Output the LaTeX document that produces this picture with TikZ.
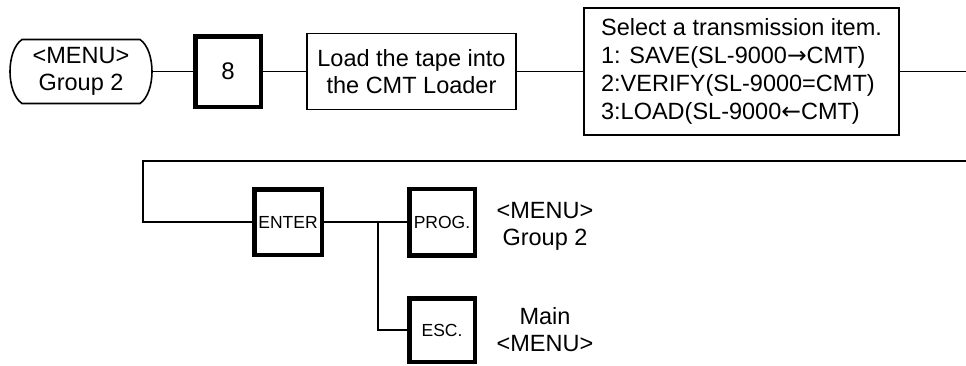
\documentclass[tikz,border=0pt]{standalone}
\usepackage{fontspec}
\setmainfont{Liberation Sans}
\newfontfamily\arrowfont{DejaVu Sans}
\begin{document}
\begin{tikzpicture}[x=1pt,y=-1pt,
	base/.style={font=\fontsize{23.5}{27}\selectfont},
	wire/.style={line width=1.6pt},
	key/.style={rectangle,draw,line width=4.5pt,minimum width=66pt,minimum height=66pt,inner sep=0pt,outer sep=0pt,font=\fontsize{17.5}{20}\selectfont},
	box/.style={rectangle,draw,line width=1.6pt,base,align=center,inner sep=0pt,outer sep=0pt},
	msg/.style={base,align=center},
	]
	
	\useasboundingbox (0,0) rectangle (966,365);
	
	% first row
	\node[box,draw=none,minimum width=142pt,minimum height=64pt] (menu) at (81,71.5) {<MENU>\\Group 2};
	\draw[wire] ([xshift=12pt]menu.north west) -- ([xshift=-12pt]menu.north east)
	.. controls ([xshift=4pt,yshift=-11pt]menu.north east) and ([xshift=4pt,yshift=11pt]menu.south east) .. ([xshift=-12pt]menu.south east)
	-- ([xshift=12pt]menu.south west)
	.. controls ([xshift=-4pt,yshift=11pt]menu.south west) and ([xshift=-4pt,yshift=-11pt]menu.north west) .. cycle;
	
	\node[key,font=\fontsize{24}{28}\selectfont,minimum width=65.5pt,minimum height=70.5pt] (k8) at (228,71.5) {8};
	\node[box,minimum width=209pt,minimum height=76pt] (load) at (411.5,71.5) {Load the tape into\\the CMT Loader};
	\node[box,align=left,font=\fontsize{23.5}{28}\selectfont,minimum width=315pt,minimum height=127pt] (sel) at (741.5,71.5)
	{Select a transmission item.\\1: SAVE(SL-9000{\arrowfont →}CMT)\\2:VERIFY(SL-9000=CMT)\\3:LOAD(SL-9000{\arrowfont ←}CMT)};
	
	\coordinate (r1) at (966,71.5);
	\coordinate (r2) at (966,161);
	\coordinate (l2) at (143,161);
	
	\draw[wire] (menu) -- (k8);
	\draw[wire] (k8) -- (load);
	\draw[wire] (load) -- (sel);
	\draw[wire] (sel) -- (r1);
	
	% second row
	\node[key,minimum width=67.5pt,minimum height=65.5pt] (enter) at (288,222) {ENTER};
	\node[key,minimum width=65.5pt,minimum height=66.5pt] (prog) at (442,222) {PROG.};
	\node[key,minimum width=65.5pt,minimum height=63.5pt] (esc) at (442,330) {ESC.};
	\coordinate (j) at (378,222);
	
	\draw[wire] (r2) -- (l2) |- (enter);
	\draw[wire] (enter) -- (prog);
	\draw[wire] (j) |- (esc);
	
	\node[msg] (progtxt) at (545,226) {<MENU>\\Group 2};
	\node[msg] (esctxt) at (545,330) {Main\\<MENU>};

\end{tikzpicture}
\end{document}
